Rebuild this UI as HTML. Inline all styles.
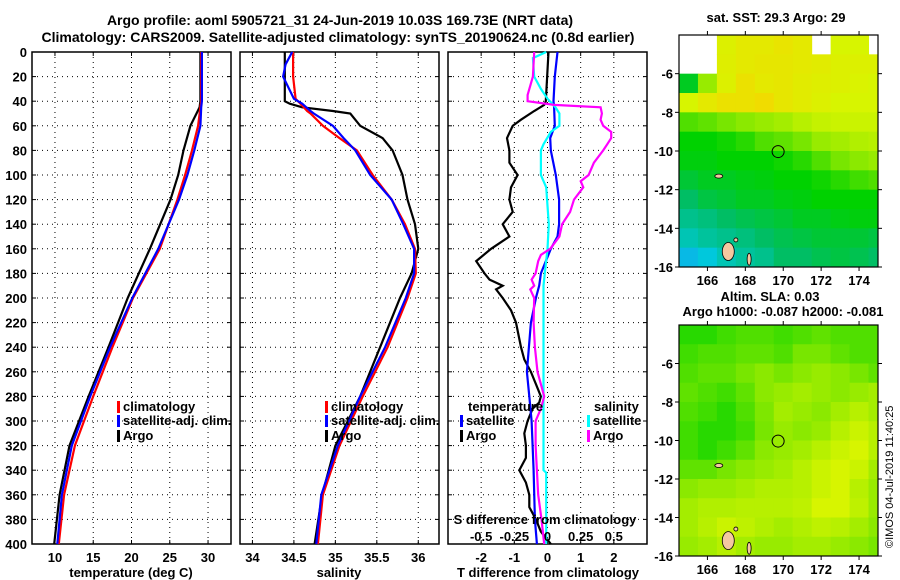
<!DOCTYPE html>
<html><head><meta charset="utf-8"><style>
html,body{margin:0;padding:0;background:#fff;}
svg{display:block;font-family:"Liberation Sans",Arial,sans-serif;font-weight:bold;}
text{font-size:13px;fill:#000;}
</style></head><body>
<svg id="chart" width="900" height="580" viewBox="0 0 900 580" xmlns="http://www.w3.org/2000/svg">
<text x="340" y="25" text-anchor="middle" style="font-size:14px">Argo profile: aoml 5905721_31 24-Jun-2019 10.03S 169.73E (NRT data)</text>
<text x="338" y="42" text-anchor="middle" style="font-size:14px">Climatology: CARS2009. Satellite-adjusted climatology: synTS_20190624.nc (0.8d earlier)</text>
<text x="776" y="22" text-anchor="middle">sat. SST: 29.3 Argo: 29</text>
<text x="770" y="301" text-anchor="middle">Altim. SLA: 0.03</text>
<text x="783" y="316" text-anchor="middle">Argo h1000: -0.087 h2000: -0.081</text>
<text transform="translate(893,548) rotate(-90)" style="font-size:11px;font-weight:normal">©IMOS 04-Jul-2019 11:40:25</text>
<g id="g"></g>
</svg>
<script>
// ---- profile data ----
const tDepth=[0,40,45,60,80,100,120,160,200,240,280,320,360,400];
const tClim=[29.1,29.1,29.0,28.7,27.9,27.0,26.0,23.7,20.2,17.5,15.0,12.6,11.2,10.5];
const tSat=[29.2,29.2,29.1,29.0,28.2,27.3,26.2,23.5,20.1,17.2,14.6,12.2,10.9,10.3];
const tArgo=[29.0,29.0,28.9,27.7,26.8,26.1,25.1,22.4,19.5,17.0,14.4,11.9,10.6,9.9];
const sDepth=[0,10,20,38,40,42,45,48,50,60,70,80,100,120,140,160,180,200,240,280,320,360,400];
const sArgo=[34.39,34.39,34.39,34.39,34.39,34.45,34.6,34.97,35.18,35.30,35.57,35.69,35.81,35.87,35.96,36.0,35.92,35.78,35.54,35.30,35.0,34.84,34.75];
const sClim=[34.49,34.49,34.49,34.52,34.55,34.58,34.62,34.66,34.7,34.85,35.05,35.26,35.45,35.68,35.84,35.96,35.97,35.87,35.63,35.33,35.05,34.85,34.79];
const sSat=[34.48,34.4,34.37,34.5,34.55,34.6,34.65,34.7,34.74,34.97,35.1,35.24,35.42,35.68,35.82,35.95,35.95,35.85,35.6,35.3,35.03,34.83,34.77];
const dTDepth=[0,40,43,48,55,60,70,80,90,100,110,120,130,140,150,160,170,180,185,190,193,200,210,220,240,250,260,270,280,285,290,300,310,320,330,340,350,360,370,380,390,400];
const dTArgo=[0.03,-0.05,-0.1,-0.4,-0.8,-1.05,-1.22,-1.15,-1.15,-0.9,-1.1,-1.15,-1.05,-1.35,-1.15,-1.7,-2.15,-1.9,-1.75,-1.35,-1.55,-1.35,-1.1,-0.95,-0.8,-0.7,-0.5,-0.35,-0.2,-0.25,-0.45,-0.6,-0.7,-0.65,-0.65,-0.85,-0.65,-0.55,-0.55,-0.35,-0.2,0.1];
const dTSatDepth=[0,20,40,45,60,70,80,100,120,140,150,160,180,190,200,220,260,280,300,340,380,400];
const dTSat=[0.3,0.22,0.18,0.2,0.22,0.08,0.1,0.25,0.35,0.35,0.3,0.1,-0.2,-0.25,-0.35,-0.5,-0.62,-0.55,-0.48,-0.42,-0.38,-0.32];
const dSSatDepth=[0,5,20,30,38,45,50,60,65,75,80,100,110,140,160,180,190,340,342,400];
const dSSat=[-0.01,-0.11,-0.1,-0.05,0,0.06,0.09,0.09,0.025,-0.03,-0.05,-0.05,-0.01,0.01,0,-0.02,-0.03,-0.03,-0.01,-0.01];
const dSArgoDepth=[0,20,35,40,43,45,50,55,60,65,70,75,80,90,100,105,110,120,130,140,150,160,165,170,180,185,190,193,200,220,240,260,280,290,300,320,340,360,380,400];
const dSArgo=[-0.1,-0.11,-0.15,-0.15,0.05,0.4,0.41,0.4,0.42,0.48,0.48,0.45,0.42,0.35,0.31,0.25,0.27,0.2,0.17,0.11,0.09,0.02,-0.05,-0.07,-0.09,-0.12,-0.1,-0.13,-0.1,-0.105,-0.095,-0.075,-0.025,-0.05,-0.09,-0.09,-0.08,-0.07,-0.045,-0.025];
// ---- map data (rows lat -4..-16 by 1 deg, cols lon 164.5..175.5 by 1 deg); value 0..1 on colour scale, null = missing
const sstGrid=[
[null,null,0.82,0.85,0.85,0.87,0.85,null,0.8,0.8,null],
[null,null,0.83,0.85,0.86,0.86,0.85,0.84,0.82,0.82,0.82],
[0.45,0.7,0.82,0.88,0.85,0.86,0.84,0.83,0.82,0.81,0.8],
[0.8,0.85,0.88,0.88,0.9,0.86,0.84,0.82,0.8,0.8,0.8],
[0.6,0.62,0.65,0.68,0.7,0.72,0.75,0.77,0.78,0.78,0.78],
[0.5,0.5,0.52,0.55,0.6,0.62,0.65,0.7,0.72,0.74,0.75],
[0.48,0.48,0.5,0.5,0.5,0.52,0.55,0.6,0.65,0.68,0.7],
[0.42,0.45,0.45,0.47,0.48,0.5,0.5,0.52,0.55,0.58,0.6],
[0.35,0.4,0.42,0.45,0.45,0.47,0.48,0.5,0.5,0.5,0.5],
[0.3,0.32,0.35,0.38,0.4,0.42,0.45,0.45,0.47,0.48,0.48],
[0.25,0.28,0.3,0.32,0.35,0.38,0.4,0.42,0.42,0.42,0.4],
[0.15,0.2,0.25,0.28,0.3,0.35,0.35,0.38,0.4,0.38,0.35]];
const slaGrid=[
[0.55,0.55,0.58,0.6,0.6,0.58,0.6,0.62,0.6,0.6,0.6],
[0.58,0.6,0.6,0.62,0.62,0.6,0.65,0.65,0.62,0.6,0.6],
[0.6,0.62,0.62,0.65,0.68,0.65,0.68,0.7,0.68,0.65,0.62],
[0.62,0.6,0.58,0.62,0.68,0.7,0.72,0.7,0.68,0.7,0.72],
[0.6,0.58,0.55,0.6,0.66,0.72,0.7,0.68,0.72,0.75,0.72],
[0.58,0.55,0.55,0.58,0.65,0.7,0.68,0.7,0.75,0.78,0.75],
[0.58,0.55,0.58,0.62,0.68,0.7,0.72,0.75,0.78,0.8,0.75],
[0.62,0.62,0.65,0.68,0.7,0.72,0.75,0.78,0.8,0.78,0.72],
[0.68,0.7,0.7,0.72,0.74,0.74,0.75,0.78,0.8,0.75,0.7],
[0.72,0.74,0.74,0.75,0.75,0.75,0.76,0.8,0.8,0.76,0.7],
[0.72,0.75,0.78,0.76,0.74,0.72,0.74,0.76,0.75,0.72,0.68],
[0.7,0.72,0.75,0.72,0.7,0.7,0.72,0.72,0.7,0.68,0.65]];
const argoLon=169.73, argoLat=-10.03;
const depthTicks=[0,20,40,60,80,100,120,140,160,180,200,220,240,260,280,300,320,340,360,380,400];
const tTicks=[10,15,20,25,30], sTicks=[34,34.5,35,35.5,36], dTTicks=[-2,-1,0,1,2];
const dSTicks=[-0.5,-0.25,0,0.25,0.5], dSLabels=["-0.5","-0.25","0","0.25","0.5"];
const lonTicks=[166,168,170,172,174], latTicks=[-6,-8,-10,-12,-14,-16];

const NS='http://www.w3.org/2000/svg';
const G=document.getElementById('g');
function mk(tag,attrs,parent){const e=document.createElementNS(NS,tag);for(const k in attrs)e.setAttribute(k,attrs[k]);(parent||G).appendChild(e);return e;}
const PY0=52,PY1=544;
const yD=d=>PY0+(d/400)*(PY1-PY0);
function lin(d0,d1,r0,r1){return v=>r0+(v-d0)/(d1-d0)*(r1-r0);}
const panels=[
 {x0:32,x1:231,sc:lin(7,33,32,231),ticks:tTicks,name:'temperature'},
 {x0:240,x1:439,sc:lin(33.85,36.25,240,439),ticks:sTicks,name:'salinity'},
 {x0:448,x1:647,sc:lin(-3,3,448,647),ticks:dTTicks,name:'difference'}];
const dsX=lin(-0.75,0.75,448,647);

panels.forEach((p,i)=>{
  const fr=mk('rect',{x:p.x0,y:PY0,width:p.x1-p.x0,height:PY1-PY0,fill:'#fff',stroke:'#000','stroke-width':1.5});
  
  
  depthTicks.forEach(d=>{
    if(d>0&&d<400){const l=mk('line',{x1:p.x0,x2:p.x1,y1:yD(d),y2:yD(d),stroke:'#000','stroke-dasharray':'1,4'});
    
    }
    mk('line',{x1:p.x0,x2:p.x0+4,y1:yD(d),y2:yD(d),stroke:'#000'});
    mk('line',{x1:p.x1-4,x2:p.x1,y1:yD(d),y2:yD(d),stroke:'#000'});
    if(i==0){const t=mk('text',{x:27,y:yD(d)+5,'text-anchor':'end'});t.textContent=d;
    
    }
  });
  p.ticks.forEach(v=>{
    const x=p.sc(v);
    const l=mk('line',{x1:x,x2:x,y1:PY0,y2:PY1,stroke:'#000','stroke-dasharray':'1,4'});
    
    
    mk('line',{x1:x,x2:x,y1:PY1-4,y2:PY1,stroke:'#000'});
    mk('line',{x1:x,x2:x,y1:PY0,y2:PY0+4,stroke:'#000'});
    const t=mk('text',{x:x,y:562,'text-anchor':'middle'});t.textContent=v;
    
    
  });
});
function series(xs,ds,sc,color,name){
  const pts=xs.map((v,k)=>sc(v).toFixed(1)+','+yD(ds[k]).toFixed(1)).join(' ');
  const pl=mk('polyline',{points:pts,fill:'none',stroke:color,'stroke-width':2.2});
  
  
}
series(tArgo,tDepth,panels[0].sc,'#000','temp-argo-line');
series(tClim,tDepth,panels[0].sc,'#f00','temp-climatology-line');
series(tSat,tDepth,panels[0].sc,'#00f','temp-satellite-line');
series(sArgo,sDepth,panels[1].sc,'#000','sal-argo-line');
series(sClim,sDepth,panels[1].sc,'#f00','sal-climatology-line');
series(sSat,sDepth,panels[1].sc,'#00f','sal-satellite-line');
series(dTArgo,dTDepth,panels[2].sc,'#000','dT-argo-line');
series(dTSat,dTSatDepth,panels[2].sc,'#00f','dT-satellite-line');
series(dSSat,dSSatDepth,dsX,'#0ff','dS-satellite-line');
series(dSArgo,dSArgoDepth,dsX,'#f0f','dS-argo-line');
dSTicks.forEach((v,k)=>{const t=mk('text',{x:dsX(v),y:541,'text-anchor':'middle'});t.textContent=dSLabels[k];
 
 });
function txt(x,y,s,name,anchor){const t=mk('text',{x:x,y:y,'text-anchor':anchor||'start'});t.textContent=s;
 
 return t;}
txt(545,524,'S difference from climatology','s-diff-axis-title','middle');
txt(131,577,'temperature (deg C)','temp-axis-title','middle');
txt(339,577,'salinity','sal-axis-title','middle');
txt(548,577,'T difference from climatology','t-diff-axis-title','middle');
function leg(x,y,color,label){mk('rect',{x:x,y:y-10,width:3,height:12,fill:color});
 const t=txt(x+6,y,label,'legend-entry');}
[[117,'climatology','#f00',411],[117,'satellite-adj. clim.','#00f',425],[117,'Argo','#000',440],
 [325,'climatology','#f00',411],[325,'satellite-adj. clim.','#00f',425],[325,'Argo','#000',440]].forEach(a=>leg(a[0],a[3],a[2],a[1]));
txt(468,411,'temperature','legend-heading-temperature');
leg(460,425,'#00f','satellite');leg(460,440,'#000','Argo');
txt(594,411,'salinity','legend-heading-salinity');
leg(587,425,'#0ff','satellite');leg(587,440,'#f0f','Argo');

// ---- maps ----
const stops=[[0,[30,140,255]],[0.2,[0,200,220]],[0.35,[0,190,100]],[0.5,[0,210,0]],[0.65,[120,230,0]],[0.8,[215,245,0]],[0.9,[240,220,0]],[1,[250,160,0]]];
function cmap(v){for(let i=1;i<stops.length;i++){if(v<=stops[i][0]){const a=stops[i-1],b=stops[i],f=(v-a[0])/(b[0]-a[0]);
 return 'rgb('+a[1].map((c,j)=>Math.round(c+(b[1][j]-c)*f)).join(',')+')';}}return 'rgb(250,160,0)';}
function drawMap(y0,y1,grid,name){
  const X0=679,X1=878,lonX=lin(164.5,175,X0,X1),latY=lin(-4,-16,y0,y1);
  const cid='clip-'+name;
  const cp=mk('clipPath',{id:cid});mk('rect',{x:X0,y:y0,width:X1-X0,height:y1-y0},cp);
  const g=mk('g',{'clip-path':'url(#'+cid+')'});
  
  
  grid.forEach((row,r)=>row.forEach((v,c)=>{
    if(v===null)return;
    const x=lonX(164.5+c),y=latY(-4-r);
    const cell=mk('rect',{x:x,y:y,width:lonX(165.5+c)-x+0.5,height:latY(-5-r)-y+0.5,fill:cmap(v)},g);
    
    
  }));
  [[167.1,-15.2,6,9],[166.6,-11.3,4,2],[168.2,-15.6,2,6],[167.5,-14.6,2,2]].forEach(s=>{
    const e=mk('ellipse',{cx:lonX(s[0]),cy:latY(s[1]),rx:s[2],ry:s[3],fill:'#f4c8a0',stroke:'#000','stroke-width':0.8},g);
    
    
  });
  const fr=mk('rect',{x:X0,y:y0,width:X1-X0,height:y1-y0,fill:'none',stroke:'#000','stroke-width':1.2});
  
  
  const c=mk('circle',{cx:lonX(argoLon),cy:latY(argoLat),r:6,fill:'none',stroke:'#000','stroke-width':1});
  
  
  lonTicks.forEach(v=>{const x=lonX(v);mk('line',{x1:x,x2:x,y1:y1,y2:y1+4,stroke:'#000'});mk('line',{x1:x,x2:x,y1:y0-4,y2:y0,stroke:'#000'});
    const t=mk('text',{x:x,y:y1+18,'text-anchor':'middle'});t.textContent=v;
    
    });
  latTicks.forEach(v=>{const y=latY(v);mk('line',{x1:X0-4,x2:X0,y1:y,y2:y,stroke:'#000'});mk('line',{x1:X1,x2:X1+4,y1:y,y2:y,stroke:'#000'});
    const t=mk('text',{x:X0-6,y:y+5,'text-anchor':'end'});t.textContent=v;
    
    });
}
drawMap(35,267,sstGrid,'sst');
drawMap(325,556,slaGrid,'sla');
</script>
</body></html>
